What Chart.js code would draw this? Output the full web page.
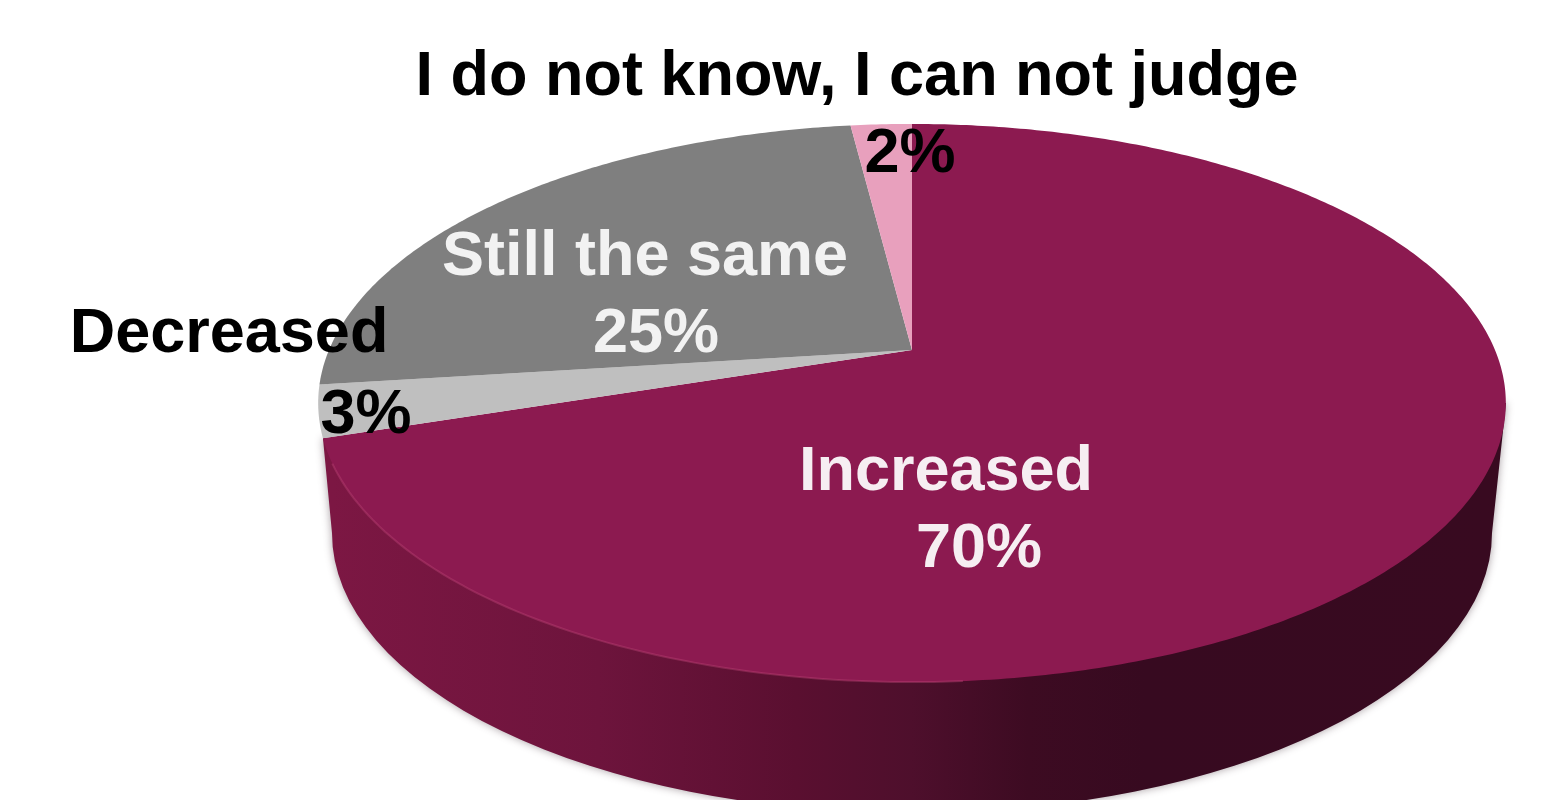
<!DOCTYPE html>
<html>
<head>
<meta charset="utf-8">
<title>Pie</title>
<style>
    html, body { margin: 0; padding: 0; background: #fff; overflow: hidden; }
    canvas { display: block; }
</style>
<script src="https://cdn.jsdelivr.net/npm/chart.js@4/dist/chart.umd.min.js"></script>
</head>
<body>
<canvas id="pie" width="1551" height="800"></canvas>
<script>
// Slices run clockwise from twelve o'clock
const categories = ['Increased', 'Decreased', 'Still the same', 'I do not know, I can not judge'];
const shares = [70, 3, 25, 2];
const sliceColors = ['#8c1a50', '#bfbfbf', '#7f7f7f', '#e8a0bd'];

// Label placement: x is the text centre, y the first baseline
const labelSpots = [
    { x: 946, y: 490, gap: 77, color: '#f6eef2', percentX: 979 },
    { x: 229, y: 352, gap: 81, color: '#000', percentX: 366 },
    { x: 645, y: 275, gap: 77, color: '#f2f2f2', percentX: 656 },
    { x: 857, y: 95, gap: 77, color: '#000', percentX: 910 }
];

// Tilted disc: the hub sits above the middle of the ellipse because the near edge looks bigger
const hub = { x: 912, y: 350 };
const tilt = { a: 583, b: 269, k: 0.19 };
const rim = { cx: 912, cy: 403, rx: 594, ry: 279 };
const base = { cx: 912, cy: 533, rx: 580, ry: 280 };

function project(angle) {
    const u = Math.cos(angle);
    const v = Math.sin(angle);
    const w = 1 - tilt.k * v;
    return { x: hub.x + tilt.a * u / w, y: hub.y + tilt.b * v / w };
}

function traceWedge(ctx, start, end) {
    ctx.beginPath();
    ctx.moveTo(hub.x, hub.y);
    const steps = Math.max(2, Math.ceil((end - start) * 90));
    for (let i = 0; i <= steps; i++) {
        const p = project(start + (end - start) * i / steps);
        ctx.lineTo(p.x, p.y);
    }
    ctx.closePath();
}

function drawSide(ctx, arc) {
    const leftEnd = project(arc.endAngle);
    const shade = ctx.createLinearGradient(base.cx - base.rx, 0, base.cx + base.rx, 0);
    shade.addColorStop(0, '#7c1743');
    shade.addColorStop(0.23, '#6d143c');
    shade.addColorStop(0.4, '#5a0f30');
    shade.addColorStop(0.5, '#4e0f2c');
    shade.addColorStop(0.6, '#3d0b22');
    shade.addColorStop(0.7, '#370a20');
    shade.addColorStop(1, '#380a20');

    ctx.save();
    ctx.shadowColor = 'rgba(60, 40, 50, 0.45)';
    ctx.shadowBlur = 9;
    ctx.beginPath();
    ctx.moveTo(rim.cx + rim.rx, rim.cy);
    ctx.lineTo(base.cx + base.rx, base.cy);
    ctx.ellipse(base.cx, base.cy, base.rx, base.ry, 0, 0, Math.PI);
    ctx.lineTo(leftEnd.x, leftEnd.y);
    ctx.closePath();
    ctx.fillStyle = shade;
    ctx.fill();
    ctx.restore();
}

const tiltedPie = {
    id: 'tiltedPie',
    // The default flat arcs are replaced by projected ones
    beforeDatasetsDraw(chart) {
        const ctx = chart.ctx;
        const arcs = chart.getDatasetMeta(0).data;
        drawSide(ctx, arcs[0]);
        arcs.forEach((arc, i) => {
            traceWedge(ctx, arc.startAngle, arc.endAngle);
            ctx.fillStyle = sliceColors[i];
            ctx.fill();
        });

        // Thin highlight along the front-left edge of the top face
        ctx.beginPath();
        for (let a = 1.5; a <= 2.75; a += 0.02) {
            const p = project(a);
            ctx.lineTo(p.x, p.y);
        }
        ctx.strokeStyle = 'rgba(190, 70, 120, 0.4)';
        ctx.lineWidth = 2;
        ctx.stroke();
        return false;
    },
    afterDraw(chart) {
        const ctx = chart.ctx;
        ctx.save();
        ctx.font = 'bold 63px "Liberation Sans", Arial, sans-serif';
        ctx.textAlign = 'center';
        ctx.textBaseline = 'alphabetic';
        categories.forEach((name, i) => {
            const spot = labelSpots[i];
            ctx.fillStyle = spot.color;
            ctx.fillText(name, spot.x, spot.y);
            ctx.fillText(shares[i] + '%', spot.percentX, spot.y + spot.gap);
        });
        ctx.restore();
    }
};

new Chart(document.getElementById('pie').getContext('2d'), {
    type: 'pie',
    data: {
        labels: categories,
        datasets: [{ data: shares, backgroundColor: sliceColors, borderWidth: 0 }]
    },
    options: {
        responsive: false,
        animation: false,
        plugins: {
            legend: { display: false },
            tooltip: { enabled: false }
        }
    },
    plugins: [tiltedPie]
});
</script>
</body>
</html>
